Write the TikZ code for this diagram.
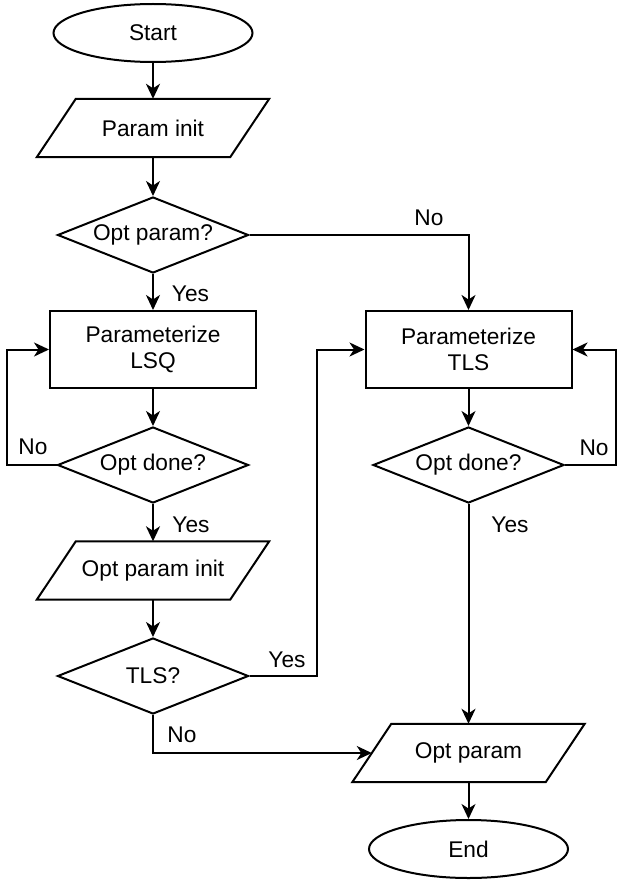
\documentclass[tikz,border=0pt]{standalone}
\usepackage{fontspec}
\setmainfont{Liberation Sans}
\usetikzlibrary{shapes.geometric,arrows.meta}
\begin{document}
\begin{tikzpicture}[x=1pt,y=-1pt,
  every node/.style={font=\fontsize{22.7}{26.5}\selectfont},
  line/.style={line width=2pt, line join=miter},
  conn/.style={line width=2pt, -{Stealth[length=15pt,width=14pt,inset=4.5pt]}},
  term/.style={ellipse, draw, line width=2pt, minimum width=199pt, minimum height=58pt, inner sep=0pt},
  proc/.style={rectangle, draw, line width=2pt, minimum width=206pt, minimum height=77pt, align=center, inner sep=0pt},
  dec/.style={diamond, draw, line width=2pt, aspect=2.5, minimum width=191pt, minimum height=76pt, inner sep=0pt},
  io/.style={rectangle, minimum width=193pt, minimum height=58pt, inner sep=0pt},
  lbl/.style={inner sep=0pt}
]
\useasboundingbox (0,0) rectangle (616,880);

% left column
\node[term] (start) at (153,33) {Start};
\node[io] (pinit) at (153,128) {Param init};
\node[dec] (optq) at (153,235) {Opt param?};
\node[proc] (lsq) at (153,349.5) {Parameterize\\LSQ};
\node[dec] (done1) at (153,465) {Opt done?};
\node[io] (opinit) at (153,570.5) {Opt param init};
\node[dec] (tlsq) at (153,676) {TLS?};

% right column
\node[proc] (tls) at (468.5,349.5) {Parameterize\\TLS};
\node[dec] (done2) at (468.5,465) {Opt done?};
\node[io] (opar) at (468.5,753) {Opt param};
\node[term] (end) at (468.5,849) {End};

% parallelograms
\foreach \n in {pinit,opinit,opar}{
  \draw[line] ([xshift=19.5pt]\n.north west) -- ([xshift=19.5pt]\n.north east)
     -- ([xshift=-19.5pt]\n.south east) -- ([xshift=-19.5pt]\n.south west) -- cycle;
}

% connectors
\draw[conn] (start) -- (pinit);
\draw[conn] (pinit) -- (optq);
\draw[conn] (optq) -- (lsq);
\draw[conn] (optq.east) -| (tls.north);
\draw[conn] (lsq) -- (done1);
\draw[conn] (done1.west) -- ++(-50,0) |- (lsq.west);
\draw[conn] (done1) -- (opinit);
\draw[conn] (opinit) -- (tlsq);
\draw[conn] (tlsq.east) -- ++(67,0) |- (tls.west);
\draw[conn] (tlsq.south) |- (opar.west);
\draw[conn] (tls) -- (done2);
\draw[conn] (done2.east) -- ++(51,0) |- (tls.east);
\draw[conn] (done2.south) -- (opar.north);
\draw[conn] (opar) -- (end);

% labels
\node[lbl] (lyes1) at (190.5,294) {Yes};
\node[lbl] (lno1) at (429,217.5) {No};
\node[lbl] (lno2) at (33,447) {No};
\node[lbl] (lyes2) at (191,524.5) {Yes};
\node[lbl] (lyes3) at (287,659.5) {Yes};
\node[lbl] (lno3) at (182,735) {No};
\node[lbl] (lno4) at (594,447.5) {No};
\node[lbl] (lyes4) at (510,524.5) {Yes};
\end{tikzpicture}
\end{document}
